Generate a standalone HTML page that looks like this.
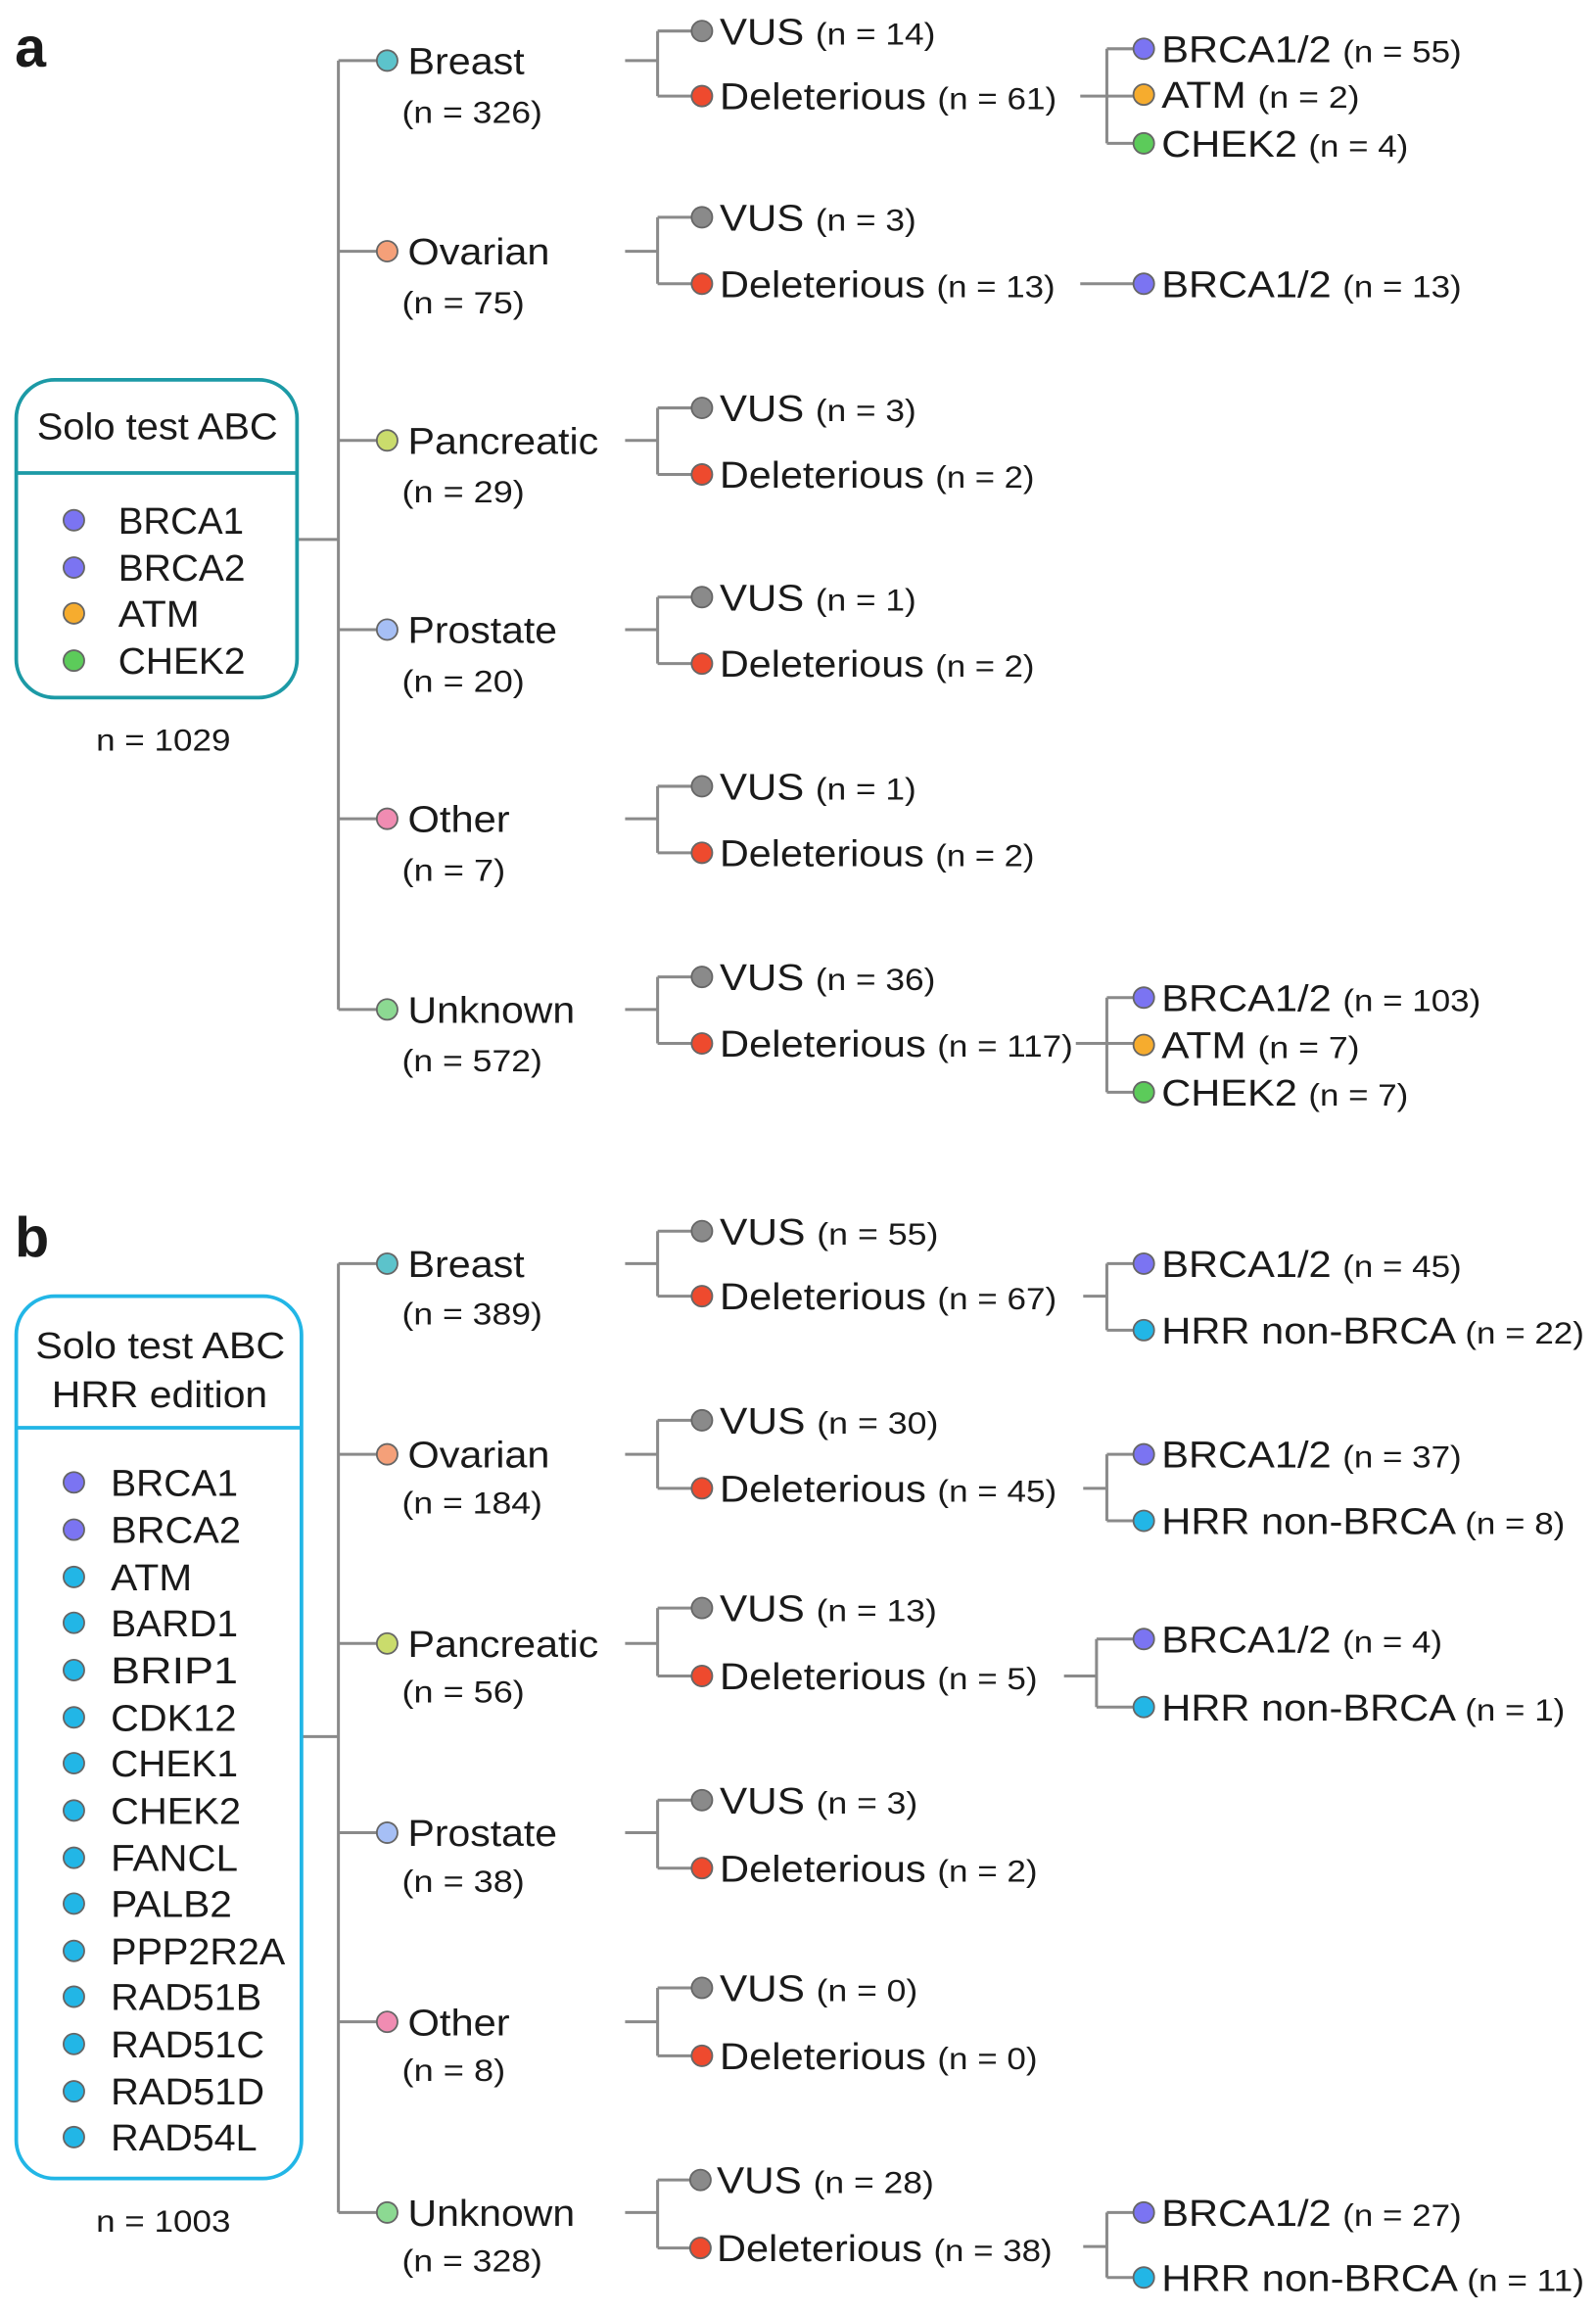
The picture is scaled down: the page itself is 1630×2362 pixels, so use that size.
<!DOCTYPE html>
<html><head><meta charset="utf-8"><style>
html,body{margin:0;padding:0;background:#fff;width:1630px;height:2362px;overflow:hidden}
svg{display:block}
text{font-family:"Liberation Sans",sans-serif;fill:#1a1a1a}
.m{font-size:25px}.p{font-size:21px}
</style></head><body>
<svg width="1630" height="2362" viewBox="0 0 1080 1565" preserveAspectRatio="none">
<g stroke="#8a8a8a" stroke-width="2" fill="none">
<!-- panel a -->
<path d="M201 365H229M229 41V683M229 41H255M229 170H255M229 298H255M229 426H255M229 554H255M229 683H255"/>
<path d="M423 41H445M445 21V65M445 21H468M445 65H468"/>
<path d="M423 170H445M445 147V192M445 147H468M445 192H468"/>
<path d="M423 298H445M445 276V321M445 276H468M445 321H468"/>
<path d="M423 426H445M445 404V449M445 404H468M445 449H468"/>
<path d="M423 554H445M445 532V577M445 532H468M445 577H468"/>
<path d="M423 683H445M445 661V706M445 661H468M445 706H468"/>
<path d="M731 65H768M749 33V97M749 33H768M749 97H768"/>
<path d="M731 192H768"/>
<path d="M728 706H768M749 675V739M749 675H768M749 739H768"/>
<!-- panel b -->
<path d="M204 1175H229M229 855V1497M229 855H255M229 984H255M229 1112H255M229 1240H255M229 1368H255M229 1497H255"/>
<path d="M423 855H445M445 833V877M445 833H468M445 877H468"/>
<path d="M423 984H445M445 961V1007M445 961H468M445 1007H468"/>
<path d="M423 1112H445M445 1088V1134M445 1088H468M445 1134H468"/>
<path d="M423 1240H445M445 1218V1264M445 1218H468M445 1264H468"/>
<path d="M423 1368H445M445 1345V1391M445 1345H468M445 1391H468"/>
<path d="M423 1497H445M445 1475V1521M445 1475H468M445 1521H468"/>
<path d="M733 877H749M749 855V900M749 855H768M749 900H768"/>
<path d="M733 1007H749M749 984V1029M749 984H768M749 1029H768"/>
<path d="M720 1134H742M742 1109V1155M742 1109H768M742 1155H768"/>
<path d="M733 1520H749M749 1497V1541M749 1497H768M749 1541H768"/>
</g>
<!-- boxes -->
<rect x="11" y="257" width="190" height="215" rx="26" fill="none" stroke="#1c9aa6" stroke-width="2.5"/>
<line x1="11" y1="320" x2="201" y2="320" stroke="#1c9aa6" stroke-width="2.5"/>
<rect x="11" y="877" width="193" height="597" rx="26" fill="none" stroke="#22b6e6" stroke-width="2.5"/>
<line x1="11" y1="966" x2="204" y2="966" stroke="#22b6e6" stroke-width="2.5"/>
<!-- dots -->
<g stroke="#666" stroke-width="1.2">
<circle cx="50" cy="352" r="7" fill="#7b74f2"/><circle cx="50" cy="384" r="7" fill="#7b74f2"/><circle cx="50" cy="415" r="7" fill="#f6ac2e"/><circle cx="50" cy="447" r="7" fill="#5ccb5a"/>
<circle cx="262" cy="41" r="7" fill="#5cc3cb"/><circle cx="262" cy="170" r="7" fill="#f5a079"/><circle cx="262" cy="298" r="7" fill="#cadc6c"/><circle cx="262" cy="426" r="7" fill="#a6bff5"/><circle cx="262" cy="554" r="7" fill="#f08cb2"/><circle cx="262" cy="683" r="7" fill="#8cd992"/>
<circle cx="262" cy="855" r="7" fill="#5cc3cb"/><circle cx="262" cy="984" r="7" fill="#f5a079"/><circle cx="262" cy="1112" r="7" fill="#cadc6c"/><circle cx="262" cy="1240" r="7" fill="#a6bff5"/><circle cx="262" cy="1368" r="7" fill="#f08cb2"/><circle cx="262" cy="1497" r="7" fill="#8cd992"/>
<g fill="#8a8a8a"><circle cx="475" cy="21" r="7"/><circle cx="475" cy="147" r="7"/><circle cx="475" cy="276" r="7"/><circle cx="475" cy="404" r="7"/><circle cx="475" cy="532" r="7"/><circle cx="475" cy="661" r="7"/>
<circle cx="475" cy="833" r="7"/><circle cx="475" cy="961" r="7"/><circle cx="475" cy="1088" r="7"/><circle cx="475" cy="1218" r="7"/><circle cx="475" cy="1345" r="7"/><circle cx="474" cy="1475" r="7"/></g>
<g fill="#ee4a2e"><circle cx="475" cy="65" r="7"/><circle cx="475" cy="192" r="7"/><circle cx="475" cy="321" r="7"/><circle cx="475" cy="449" r="7"/><circle cx="475" cy="577" r="7"/><circle cx="475" cy="706" r="7"/>
<circle cx="475" cy="877" r="7"/><circle cx="475" cy="1007" r="7"/><circle cx="475" cy="1134" r="7"/><circle cx="475" cy="1264" r="7"/><circle cx="475" cy="1391" r="7"/><circle cx="474" cy="1521" r="7"/></g>
<circle cx="774" cy="33" r="7" fill="#7b74f2"/><circle cx="774" cy="64" r="7" fill="#f6ac2e"/><circle cx="774" cy="97" r="7" fill="#5ccb5a"/>
<circle cx="774" cy="192" r="7" fill="#7b74f2"/>
<circle cx="774" cy="675" r="7" fill="#7b74f2"/><circle cx="774" cy="707" r="7" fill="#f6ac2e"/><circle cx="774" cy="739" r="7" fill="#5ccb5a"/>
<circle cx="774" cy="855" r="7" fill="#7b74f2"/><circle cx="774" cy="900" r="7" fill="#22b6e6"/>
<circle cx="774" cy="984" r="7" fill="#7b74f2"/><circle cx="774" cy="1029" r="7" fill="#22b6e6"/>
<circle cx="774" cy="1109" r="7" fill="#7b74f2"/><circle cx="774" cy="1155" r="7" fill="#22b6e6"/>
<circle cx="774" cy="1497" r="7" fill="#7b74f2"/><circle cx="774" cy="1541" r="7" fill="#22b6e6"/>
<g fill="#22b6e6">
<circle cx="50" cy="1067" r="7"/><circle cx="50" cy="1098" r="7"/><circle cx="50" cy="1130" r="7"/><circle cx="50" cy="1162" r="7"/><circle cx="50" cy="1193" r="7"/><circle cx="50" cy="1225" r="7"/><circle cx="50" cy="1257" r="7"/><circle cx="50" cy="1288" r="7"/><circle cx="50" cy="1320" r="7"/><circle cx="50" cy="1351" r="7"/><circle cx="50" cy="1383" r="7"/><circle cx="50" cy="1415" r="7"/><circle cx="50" cy="1446" r="7"/></g>
<circle cx="50" cy="1003" r="7" fill="#7b74f2"/><circle cx="50" cy="1035" r="7" fill="#7b74f2"/>
</g>
<!-- panel letters -->
<text x="10" y="45" style="font-size:38px;font-weight:bold">a</text>
<text x="10" y="850" style="font-size:38px;font-weight:bold">b</text>
<!-- box a text -->
<text x="25" y="297" class="m" textLength="163" lengthAdjust="spacingAndGlyphs">Solo test ABC</text>
<text x="80" y="361" class="m" textLength="85" lengthAdjust="spacingAndGlyphs">BRCA1</text>
<text x="80" y="393" class="m" textLength="86" lengthAdjust="spacingAndGlyphs">BRCA2</text>
<text x="80" y="424" class="m" textLength="55" lengthAdjust="spacingAndGlyphs">ATM</text>
<text x="80" y="456" class="m" textLength="86" lengthAdjust="spacingAndGlyphs">CHEK2</text>
<text x="65" y="508" class="p" textLength="91" lengthAdjust="spacingAndGlyphs">n = 1029</text>
<!-- box b text -->
<text x="24" y="919" class="m" textLength="169" lengthAdjust="spacingAndGlyphs">Solo test ABC</text>
<text x="35" y="952" class="m" textLength="146" lengthAdjust="spacingAndGlyphs">HRR edition</text>
<g class="m">
<text x="75" y="1012" textLength="86" lengthAdjust="spacingAndGlyphs">BRCA1</text>
<text x="75" y="1044" textLength="88" lengthAdjust="spacingAndGlyphs">BRCA2</text>
<text x="75" y="1076" textLength="55" lengthAdjust="spacingAndGlyphs">ATM</text>
<text x="75" y="1107" textLength="86" lengthAdjust="spacingAndGlyphs">BARD1</text>
<text x="75" y="1139" textLength="86" lengthAdjust="spacingAndGlyphs">BRIP1</text>
<text x="75" y="1171" textLength="85" lengthAdjust="spacingAndGlyphs">CDK12</text>
<text x="75" y="1202" textLength="86" lengthAdjust="spacingAndGlyphs">CHEK1</text>
<text x="75" y="1234" textLength="88" lengthAdjust="spacingAndGlyphs">CHEK2</text>
<text x="75" y="1266" textLength="86" lengthAdjust="spacingAndGlyphs">FANCL</text>
<text x="75" y="1297" textLength="82" lengthAdjust="spacingAndGlyphs">PALB2</text>
<text x="75" y="1329" textLength="118" lengthAdjust="spacingAndGlyphs">PPP2R2A</text>
<text x="75" y="1360" textLength="102" lengthAdjust="spacingAndGlyphs">RAD51B</text>
<text x="75" y="1392" textLength="104" lengthAdjust="spacingAndGlyphs">RAD51C</text>
<text x="75" y="1424" textLength="104" lengthAdjust="spacingAndGlyphs">RAD51D</text>
<text x="75" y="1455" textLength="99" lengthAdjust="spacingAndGlyphs">RAD54L</text>
</g>
<text x="65" y="1510" class="p" textLength="91" lengthAdjust="spacingAndGlyphs">n = 1003</text>
<!-- categories a -->
<g class="m">
<text x="276" y="50" textLength="79" lengthAdjust="spacingAndGlyphs">Breast</text>
<text x="276" y="179" textLength="96" lengthAdjust="spacingAndGlyphs">Ovarian</text>
<text x="276" y="307" textLength="129" lengthAdjust="spacingAndGlyphs">Pancreatic</text>
<text x="276" y="435" textLength="101" lengthAdjust="spacingAndGlyphs">Prostate</text>
<text x="276" y="563" textLength="69" lengthAdjust="spacingAndGlyphs">Other</text>
<text x="276" y="692" textLength="113" lengthAdjust="spacingAndGlyphs">Unknown</text>
<text x="276" y="864" textLength="79" lengthAdjust="spacingAndGlyphs">Breast</text>
<text x="276" y="993" textLength="96" lengthAdjust="spacingAndGlyphs">Ovarian</text>
<text x="276" y="1121" textLength="129" lengthAdjust="spacingAndGlyphs">Pancreatic</text>
<text x="276" y="1249" textLength="101" lengthAdjust="spacingAndGlyphs">Prostate</text>
<text x="276" y="1377" textLength="69" lengthAdjust="spacingAndGlyphs">Other</text>
<text x="276" y="1506" textLength="113" lengthAdjust="spacingAndGlyphs">Unknown</text>
</g>
<g class="p">
<text x="272" y="83" textLength="95" lengthAdjust="spacingAndGlyphs">(n = 326)</text>
<text x="272" y="212" textLength="83" lengthAdjust="spacingAndGlyphs">(n = 75)</text>
<text x="272" y="340" textLength="83" lengthAdjust="spacingAndGlyphs">(n = 29)</text>
<text x="272" y="468" textLength="83" lengthAdjust="spacingAndGlyphs">(n = 20)</text>
<text x="272" y="596" textLength="70" lengthAdjust="spacingAndGlyphs">(n = 7)</text>
<text x="272" y="725" textLength="95" lengthAdjust="spacingAndGlyphs">(n = 572)</text>
<text x="272" y="896" textLength="95" lengthAdjust="spacingAndGlyphs">(n = 389)</text>
<text x="272" y="1024" textLength="95" lengthAdjust="spacingAndGlyphs">(n = 184)</text>
<text x="272" y="1152" textLength="83" lengthAdjust="spacingAndGlyphs">(n = 56)</text>
<text x="272" y="1280" textLength="83" lengthAdjust="spacingAndGlyphs">(n = 38)</text>
<text x="272" y="1408" textLength="70" lengthAdjust="spacingAndGlyphs">(n = 8)</text>
<text x="272" y="1537" textLength="95" lengthAdjust="spacingAndGlyphs">(n = 328)</text>
</g>
<!-- level 2/3 labels -->
<g class="m">
<text x="487" y="30" textLength="146" lengthAdjust="spacingAndGlyphs">VUS <tspan class="p">(n = 14)</tspan></text>
<text x="487" y="74" textLength="228" lengthAdjust="spacingAndGlyphs">Deleterious <tspan class="p">(n = 61)</tspan></text>
<text x="487" y="156" textLength="133" lengthAdjust="spacingAndGlyphs">VUS <tspan class="p">(n = 3)</tspan></text>
<text x="487" y="201" textLength="227" lengthAdjust="spacingAndGlyphs">Deleterious <tspan class="p">(n = 13)</tspan></text>
<text x="487" y="285" textLength="133" lengthAdjust="spacingAndGlyphs">VUS <tspan class="p">(n = 3)</tspan></text>
<text x="487" y="330" textLength="213" lengthAdjust="spacingAndGlyphs">Deleterious <tspan class="p">(n = 2)</tspan></text>
<text x="487" y="413" textLength="133" lengthAdjust="spacingAndGlyphs">VUS <tspan class="p">(n = 1)</tspan></text>
<text x="487" y="458" textLength="213" lengthAdjust="spacingAndGlyphs">Deleterious <tspan class="p">(n = 2)</tspan></text>
<text x="487" y="541" textLength="133" lengthAdjust="spacingAndGlyphs">VUS <tspan class="p">(n = 1)</tspan></text>
<text x="487" y="586" textLength="213" lengthAdjust="spacingAndGlyphs">Deleterious <tspan class="p">(n = 2)</tspan></text>
<text x="487" y="670" textLength="146" lengthAdjust="spacingAndGlyphs">VUS <tspan class="p">(n = 36)</tspan></text>
<text x="487" y="715" textLength="239" lengthAdjust="spacingAndGlyphs">Deleterious <tspan class="p">(n = 117)</tspan></text>
<text x="786" y="42" textLength="203" lengthAdjust="spacingAndGlyphs">BRCA1/2 <tspan class="p">(n = 55)</tspan></text>
<text x="786" y="73" textLength="134" lengthAdjust="spacingAndGlyphs">ATM <tspan class="p">(n = 2)</tspan></text>
<text x="786" y="106" textLength="167" lengthAdjust="spacingAndGlyphs">CHEK2 <tspan class="p">(n = 4)</tspan></text>
<text x="786" y="201" textLength="203" lengthAdjust="spacingAndGlyphs">BRCA1/2 <tspan class="p">(n = 13)</tspan></text>
<text x="786" y="684" textLength="216" lengthAdjust="spacingAndGlyphs">BRCA1/2 <tspan class="p">(n = 103)</tspan></text>
<text x="786" y="716" textLength="134" lengthAdjust="spacingAndGlyphs">ATM <tspan class="p">(n = 7)</tspan></text>
<text x="786" y="748" textLength="167" lengthAdjust="spacingAndGlyphs">CHEK2 <tspan class="p">(n = 7)</tspan></text>

<text x="487" y="842" textLength="148" lengthAdjust="spacingAndGlyphs">VUS <tspan class="p">(n = 55)</tspan></text>
<text x="487" y="886" textLength="228" lengthAdjust="spacingAndGlyphs">Deleterious <tspan class="p">(n = 67)</tspan></text>
<text x="487" y="970" textLength="148" lengthAdjust="spacingAndGlyphs">VUS <tspan class="p">(n = 30)</tspan></text>
<text x="487" y="1016" textLength="228" lengthAdjust="spacingAndGlyphs">Deleterious <tspan class="p">(n = 45)</tspan></text>
<text x="487" y="1097" textLength="147" lengthAdjust="spacingAndGlyphs">VUS <tspan class="p">(n = 13)</tspan></text>
<text x="487" y="1143" textLength="215" lengthAdjust="spacingAndGlyphs">Deleterious <tspan class="p">(n = 5)</tspan></text>
<text x="487" y="1227" textLength="134" lengthAdjust="spacingAndGlyphs">VUS <tspan class="p">(n = 3)</tspan></text>
<text x="487" y="1273" textLength="215" lengthAdjust="spacingAndGlyphs">Deleterious <tspan class="p">(n = 2)</tspan></text>
<text x="487" y="1354" textLength="134" lengthAdjust="spacingAndGlyphs">VUS <tspan class="p">(n = 0)</tspan></text>
<text x="487" y="1400" textLength="215" lengthAdjust="spacingAndGlyphs">Deleterious <tspan class="p">(n = 0)</tspan></text>
<text x="485" y="1484" textLength="147" lengthAdjust="spacingAndGlyphs">VUS <tspan class="p">(n = 28)</tspan></text>
<text x="485" y="1530" textLength="227" lengthAdjust="spacingAndGlyphs">Deleterious <tspan class="p">(n = 38)</tspan></text>
<text x="786" y="864" textLength="203" lengthAdjust="spacingAndGlyphs">BRCA1/2 <tspan class="p">(n = 45)</tspan></text>
<text x="786" y="909" textLength="286" lengthAdjust="spacingAndGlyphs">HRR non-BRCA <tspan class="p">(n = 22)</tspan></text>
<text x="786" y="993" textLength="203" lengthAdjust="spacingAndGlyphs">BRCA1/2 <tspan class="p">(n = 37)</tspan></text>
<text x="786" y="1038" textLength="273" lengthAdjust="spacingAndGlyphs">HRR non-BRCA <tspan class="p">(n = 8)</tspan></text>
<text x="786" y="1118" textLength="190" lengthAdjust="spacingAndGlyphs">BRCA1/2 <tspan class="p">(n = 4)</tspan></text>
<text x="786" y="1164" textLength="273" lengthAdjust="spacingAndGlyphs">HRR non-BRCA <tspan class="p">(n = 1)</tspan></text>
<text x="786" y="1506" textLength="203" lengthAdjust="spacingAndGlyphs">BRCA1/2 <tspan class="p">(n = 27)</tspan></text>
<text x="786" y="1550" textLength="286" lengthAdjust="spacingAndGlyphs">HRR non-BRCA <tspan class="p">(n = 11)</tspan></text>
</g>
</svg>
</body></html>
